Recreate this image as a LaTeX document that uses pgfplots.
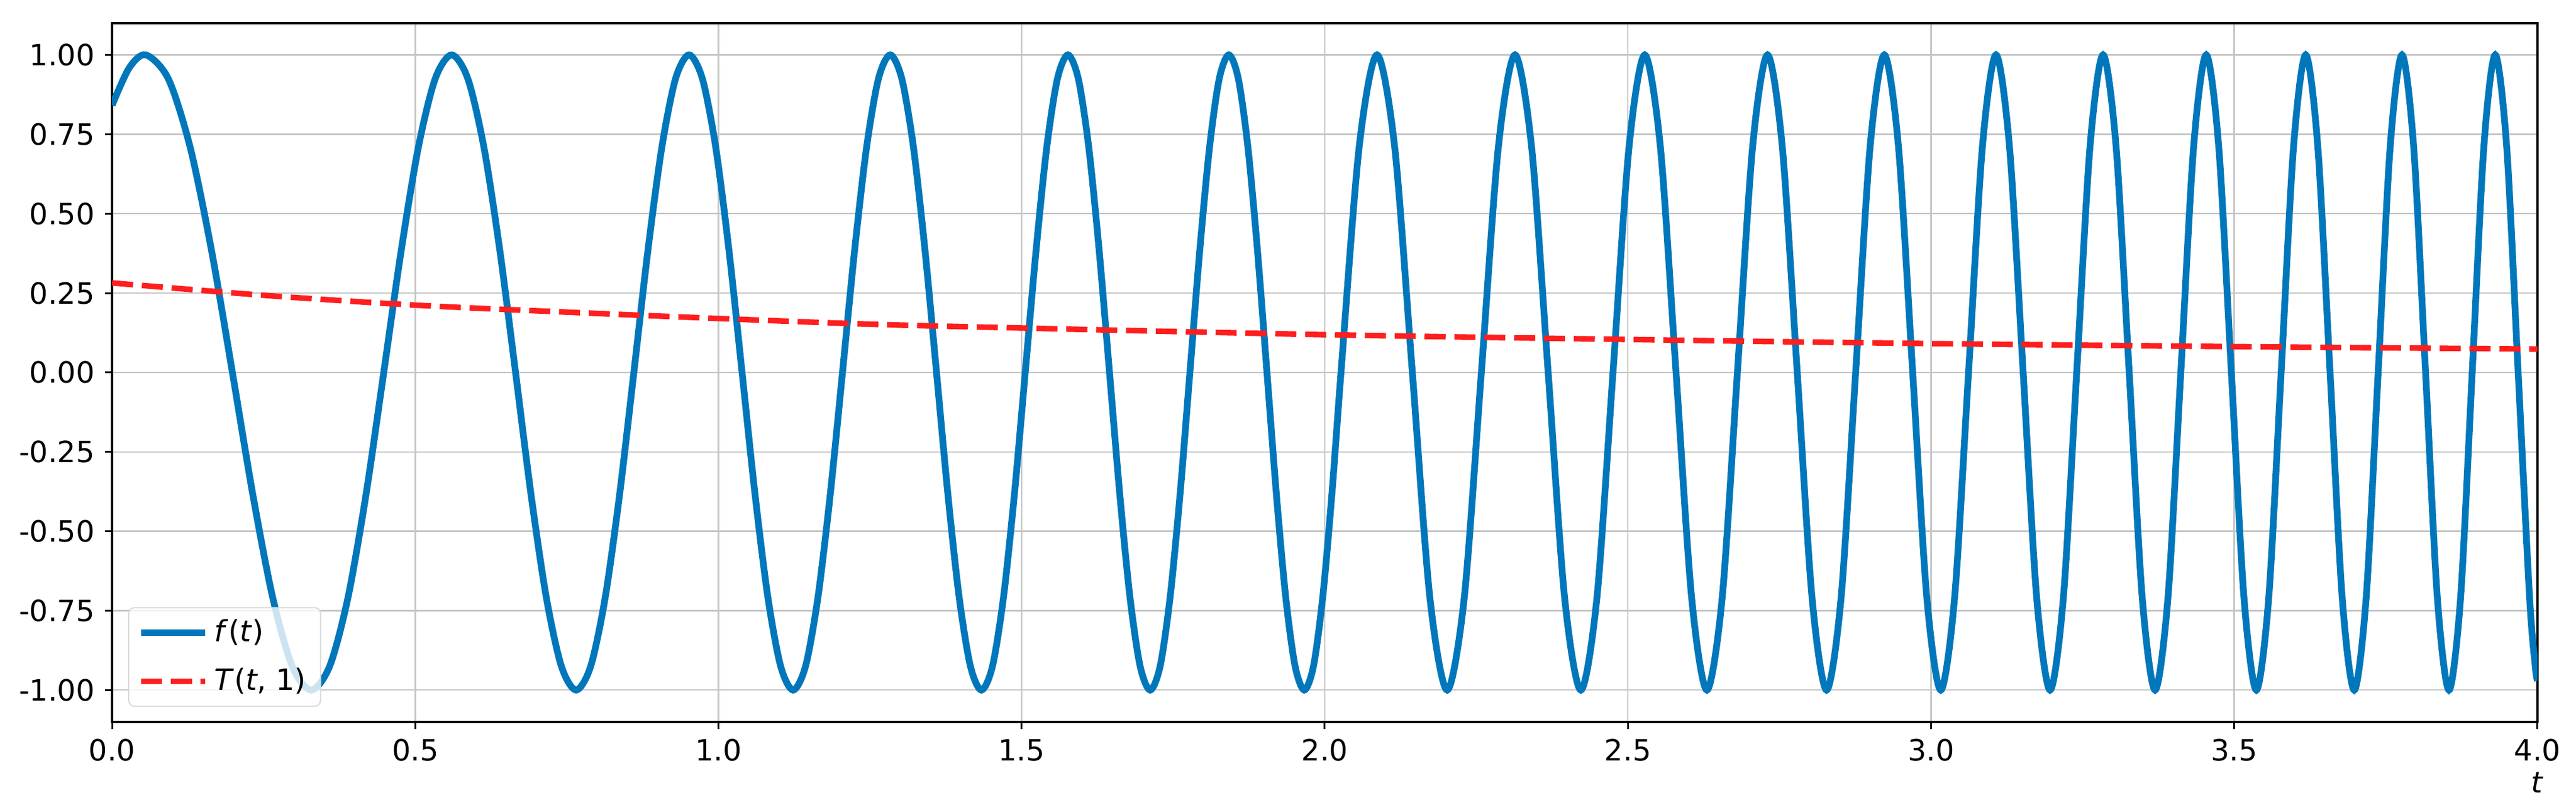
\documentclass[border=0pt]{standalone}
\usepackage{fontspec}
\setmainfont{DejaVu Sans}
\usepackage{pgfplots}
\pgfplotsset{compat=1.18}

\definecolor{fblue}{RGB}{0,119,187}
\definecolor{tred}{RGB}{255,30,30}

\begin{document}
\begin{tikzpicture}
\begin{axis}[
  scale only axis, width=828.5pt, height=238.6pt,
  xmin=0, xmax=4, ymin=-1.1, ymax=1.1,
  xtick={0,0.5,1,1.5,2,2.5,3,3.5,4},
  xticklabels={0.0,0.5,1.0,1.5,2.0,2.5,3.0,3.5,4.0},
  ytick={-1,-0.75,-0.5,-0.25,0,0.25,0.5,0.75,1},
  yticklabels={-1.00,-0.75,-0.50,-0.25,0.00,0.25,0.50,0.75,1.00},
  tick pos=left, tick align=outside, major tick length=2.4pt,
  tick style={black, line width=0.6pt},
  grid=major, grid style={gray!45, line width=0.5pt},
  axis line style={black, line width=0.8pt},
  ticklabel style={font=\fontsize{10}{12}\selectfont},
  xlabel={\textit{t}},
  xlabel style={at={(axis description cs:1,0)}, anchor=north, yshift=-17pt,
    inner sep=0pt, font=\fontsize{10}{12}\selectfont},
  legend cell align=left,
  legend style={at={(axis description cs:0,0)}, anchor=south west,
    xshift=5.5pt, yshift=5.1pt, draw=gray!30, rounded corners=2pt,
    fill=white, fill opacity=0.8, text opacity=1,
    font=\fontsize{10}{12}\selectfont, row sep=3.5pt},
  legend image code/.code={\draw[#1] (0pt,0pt) -- (22pt,0pt);},
]
% f(t)
\addplot[fblue, line width=2.3pt, smooth] coordinates {
(0,0.8415) (0.0283,0.9594) (0.0558,1) (0.0929,0.9239) (0.1290,0.7071)
(0.1641,0.3827) (0.1984,0) (0.2319,-0.3827) (0.2647,-0.7071) (0.2968,-0.9239)
(0.3282,-1) (0.3590,-0.9239) (0.3892,-0.7071) (0.4189,-0.3827) (0.4480,0)
(0.4767,0.3827) (0.5049,0.7071) (0.5327,0.9239) (0.5600,1) (0.5869,0.9239)
(0.6134,0.7071) (0.6396,0.3827) (0.6654,0) (0.6908,-0.3827) (0.7160,-0.7071)
(0.7408,-0.9239) (0.7653,-1) (0.7895,-0.9239) (0.8134,-0.7071) (0.8371,-0.3827)
(0.8605,0) (0.8836,0.3827) (0.9065,0.7071) (0.9291,0.9239) (0.9515,1)
(0.9737,0.9239) (0.9957,0.7071) (1.0175,0.3827) (1.0390,0) (1.0603,-0.3827)
(1.0815,-0.7071) (1.1025,-0.9239) (1.1232,-1) (1.1438,-0.9239) (1.1642,-0.7071)
(1.1845,-0.3827) (1.2046,0) (1.2245,0.3827) (1.2442,0.7071) (1.2638,0.9239)
(1.2833,1) (1.3026,0.9239) (1.3218,0.7071) (1.3408,0.3827) (1.3597,0)
(1.3784,-0.3827) (1.3970,-0.7071) (1.4155,-0.9239) (1.4338,-1) (1.4521,-0.9239)
(1.4702,-0.7071) (1.4882,-0.3827) (1.5060,0) (1.5238,0.3827) (1.5414,0.7071)
(1.5590,0.9239) (1.5764,1) (1.5937,0.9239) (1.6109,0.7071) (1.6280,0.3827)
(1.6450,0) (1.6619,-0.3827) (1.6787,-0.7071) (1.6954,-0.9239) (1.7121,-1)
(1.7286,-0.9239) (1.7450,-0.7071) (1.7614,-0.3827) (1.7776,0) (1.7938,0.3827)
(1.8099,0.7071) (1.8259,0.9239) (1.8418,1) (1.8576,0.9239) (1.8734,0.7071)
(1.8891,0.3827) (1.9047,0) (1.9202,-0.3827) (1.9356,-0.7071) (1.9510,-0.9239)
(1.9663,-1) (1.9815,-0.9239) (1.9967,-0.7071) (2.0118,-0.3827) (2.0268,0)
(2.0566,0.7071) (2.0862,1)
(2.1155,0.7071) (2.1445,0) (2.1733,-0.7071) (2.2019,-1) (2.2302,-0.7071)
(2.2583,0) (2.2862,0.7071) (2.3138,1) (2.3413,0.7071) (2.3685,0)
(2.3955,-0.7071) (2.4224,-1) (2.4490,-0.7071) (2.4754,0) (2.5017,0.7071)
(2.5278,1) (2.5537,0.7071) (2.5794,0) (2.6050,-0.7071) (2.6303,-1)
(2.6556,-0.7071) (2.6806,0) (2.7055,0.7071) (2.7303,1) (2.7548,0.7071)
(2.7793,0) (2.8036,-0.7071) (2.8277,-1) (2.8517,-0.7071) (2.8756,0)
(2.8993,0.7071) (2.9229,1) (2.9464,0.7071) (2.9697,0) (2.9929,-0.7071)
(3.0160,-1) (3.0389,-0.7071) (3.0618,0) (3.0845,0.7071) (3.1071,1)
(3.1295,0.7071) (3.1519,0) (3.1741,-0.7071) (3.1963,-1) (3.2183,-0.7071)
(3.2402,0) (3.2620,0.7071) (3.2837,1) (3.3053,0.7071) (3.3268,0)
(3.3482,-0.7071) (3.3695,-1) (3.3908,-0.7071) (3.4119,0) (3.4329,0.7071)
(3.4538,1) (3.4746,0.7071) (3.4953,0) (3.5160,-0.7071) (3.5365,-1)
(3.5570,-0.7071) (3.5774,0) (3.5977,0.7071) (3.6179,1) (3.6380,0.7071)
(3.6581,0) (3.6780,-0.7071) (3.6979,-1) (3.7177,-0.7071) (3.7374,0)
(3.7571,0.7071) (3.7767,1) (3.7961,0.7071) (3.8156,0) (3.8349,-0.7071)
(3.8542,-1) (3.8734,-0.7071) (3.8925,0) (3.9116,0.7071) (3.9305,1)
(3.9495,0.7071) (3.9683,0) (3.9871,-0.7071) (3.9964,-0.9239) (4.0,-0.9705)
};
\addlegendentry{\textit{f}(\textit{t})}
% T(t,1)
\addplot[tred, line width=1.9pt, smooth, dash pattern=on 7.2pt off 3pt] coordinates {
(0,0.282) (0.25,0.243) (0.5,0.212) (0.75,0.190) (1.0,0.170)
(1.25,0.152) (1.5,0.140) (1.75,0.129) (2.0,0.119) (2.25,0.111)
(2.5,0.104) (2.75,0.097) (3.0,0.091) (3.25,0.086) (3.5,0.0815)
(3.75,0.0775) (4.0,0.074)
};
\addlegendentry{\textit{T}(\textit{t}, 1)}
\end{axis}
\path ([xshift=-38.3pt,yshift=-28.4pt]current axis.south west)
  rectangle ([xshift=13.2pt,yshift=7.9pt]current axis.north east);
\end{tikzpicture}
\end{document}
